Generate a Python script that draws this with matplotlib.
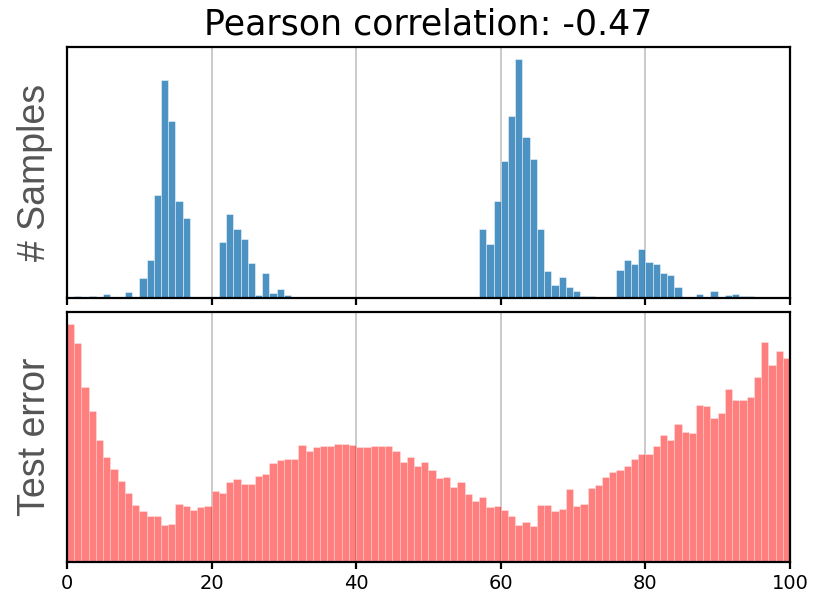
import matplotlib

matplotlib.use("Agg")
import matplotlib.pyplot as plt
import numpy as np

# bin index 0..99, one bar per unit
BINS = np.arange(100)

# top panel: sample counts per bin (arbitrary units)
SAMPLE_BINS = [1, 3, 5, 8, 10, 11, 12, 13, 14, 15, 16,
               21, 22, 23, 24, 25, 26, 27, 28, 29, 30,
               57, 58, 59, 60, 61, 62, 63, 64, 65, 66, 67, 68, 69, 70, 71, 72,
               76, 77, 78, 79, 80, 81, 82, 83, 84,
               87, 89, 91, 92, 93, 94]
SAMPLE_COUNTS = [2.5, 2.5, 3.7, 6.3, 20, 37.7, 103, 218, 176.7, 96.7, 80.3,
                 56, 84.3, 69.3, 58.7, 35, 2.7, 25.3, 5.3, 9.3, 3.3,
                 69.3, 53.7, 96.7, 137, 181.7, 238.7, 160.3, 139.3, 68.7, 26.7, 13.3, 21, 11, 7, 2, 2,
                 28.3, 37.7, 34.3, 49, 36.3, 33.7, 25, 22.7, 11,
                 3.7, 7, 3, 4.3, 2, 2.5]

# bottom panel: test error per bin (arbitrary units)
TEST_ERROR = [
    239, 219.7, 175.7, 152, 122.7, 105, 93.7, 81.7, 69.7, 57.7,
    51.7, 46.3, 46.3, 37.3, 38, 58, 56.7, 52.7, 55.3, 56,
    71.3, 69, 80.3, 83.3, 78.7, 78.7, 86, 88.7, 99, 102.3,
    103, 103, 117.3, 111.7, 115, 116.7, 116.7, 118.3, 118.3, 117.7,
    115, 115, 116, 116.7, 116, 111.7, 100, 105, 96.7, 100.3,
    92, 84.3, 85, 75, 80.3, 68.3, 61, 65.3, 55.3, 56,
    52.7, 46.3, 37.3, 40, 36, 57.7, 57, 51, 53, 73.7,
    56, 58, 74.7, 77, 85.7, 90, 92.3, 96, 103, 108.7,
    108.3, 116.7, 127.7, 122, 138.3, 130.3, 129.7, 158, 156.7, 145,
    149.3, 174, 162.3, 162.3, 165.3, 186, 221.3, 197.7, 212, 204.7,
]

TITLE = "Pearson correlation: -0.47"
XTICKS = [0, 20, 40, 60, 80, 100]


def main():
    plt.rcParams["xtick.labelsize"] = 14
    counts = np.zeros(len(BINS))
    counts[SAMPLE_BINS] = SAMPLE_COUNTS

    fig = plt.figure(figsize=(8.21, 6.0), dpi=100)
    ax1 = fig.add_axes([0.0816, 0.5033, 0.8806, 0.4183])
    ax2 = fig.add_axes([0.0816, 0.0633, 0.8806, 0.4167])

    ax1.bar(BINS, counts, width=1, align="edge", color="C0", alpha=0.8,
            edgecolor="white", linewidth=0.4)
    ax2.bar(BINS, TEST_ERROR, width=1, align="edge", color="red", alpha=0.5,
            edgecolor="white", linewidth=0.4)

    for ax, label in ((ax1, "# Samples"), (ax2, "Test error")):
        ax.set_xlim(0, 100)
        ax.set_xticks(XTICKS)
        ax.set_yticks([])
        ax.grid(axis="x", color="0.6", alpha=0.6, lw=1.2)
        ax.set_axisbelow(True)
        for sp in ax.spines.values():
            sp.set_linewidth(1.6)
        ax.set_ylabel(label, fontsize=27, color="#555555",
                      family="Liberation Sans", labelpad=10)
        ax.tick_params(axis="x", labelsize=14, width=1.6, length=5)
    ax1.tick_params(axis="x", labelbottom=False)
    ax1.set_title(TITLE, fontsize=25, pad=9)

    fig.savefig("out.png", dpi=100)


if __name__ == "__main__":
    main()
